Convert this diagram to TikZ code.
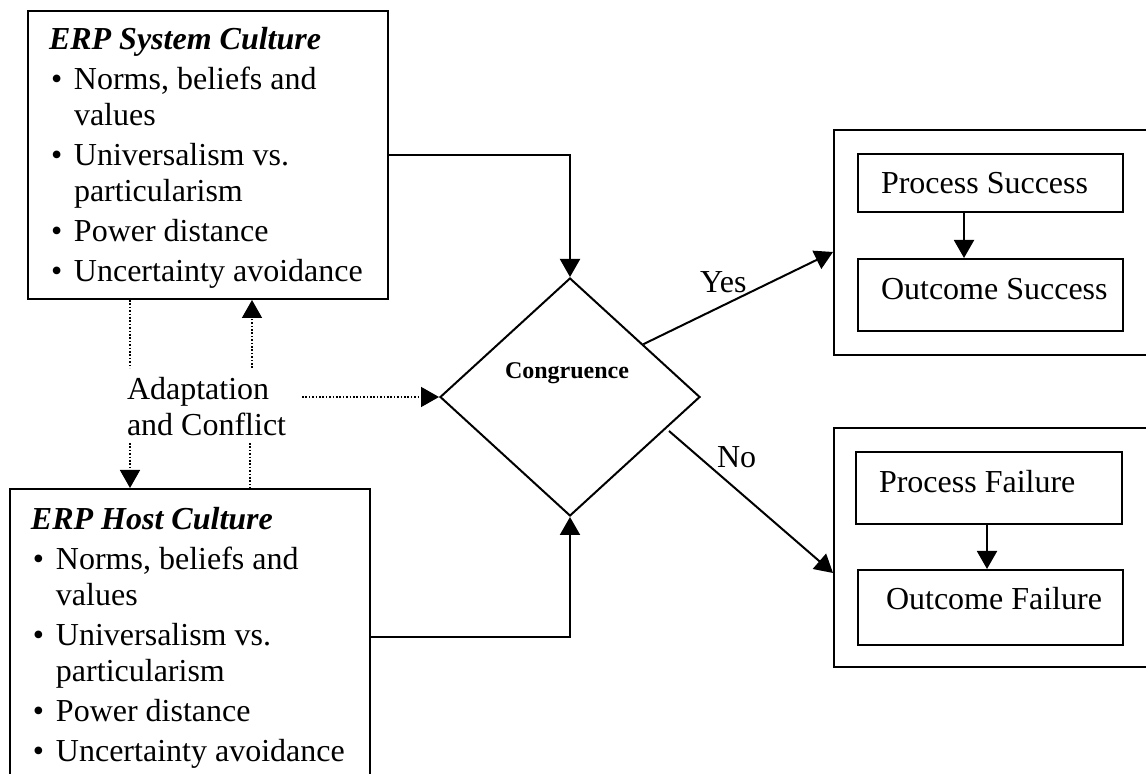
\documentclass[tikz,border=0pt]{standalone}
\usepackage{fontspec}
\setmainfont{Liberation Serif}
\usetikzlibrary{arrows.meta,shapes.geometric,fit,calc}
\newcommand\blt{\hspace*{1pt}\makebox[11.5pt][l]{\textbullet}}
\newcommand\ind{\hspace*{12.5pt}}
\begin{document}
\begin{tikzpicture}[x=0.5pt,y=-0.5pt,line width=1pt,
  tip/.style={-{Triangle[length=9pt,width=10pt]}},
  dotline/.style={line width=0.8pt,dash pattern=on 0.8pt off 0.9pt},
  frame/.style={draw,inner sep=0pt,line width=1pt},
  txt/.style={inner sep=0pt,anchor=base west,font=\fontsize{16}{18}\selectfont}]
\clip (0,0) rectangle (1146,774);
% boxes
\node[frame,fit={(28,11)(388,299)}] (sys) {};
\node[frame,fit={(10,489)(370,785)}] (host) {};
\node[draw,diamond,minimum width=130pt,minimum height=119pt,inner sep=0pt] (dia) at (570,397) {};
\node[frame,fit={(834,130)(1175,355)}] (ok) {};
\node[frame,fit={(834,428)(1175,667)}] (fail) {};
\node[frame,fit={(858,154)(1123,212)}] (ps) {};
\node[frame,fit={(858,259)(1123,331)}] (os) {};
\node[frame,fit={(856,452)(1122,524)}] (pf) {};
\node[frame,fit={(858,570)(1123,645)}] (of) {};
% texts
\node[txt] (systxt) at (48,50) {\begin{tabular}[t]{@{}l@{}}
\textbf{\textit{ERP System Culture}}\\[2pt]
\blt Norms, beliefs and\\
\ind values\\[2pt]
\blt Universalism vs.\\
\ind particularism\\[2pt]
\blt Power distance\\[2pt]
\blt Uncertainty avoidance
\end{tabular}};
\node[txt] (hosttxt) at (30,530) {\begin{tabular}[t]{@{}l@{}}
\textbf{\textit{ERP Host Culture}}\\[2pt]
\blt Norms, beliefs and\\
\ind values\\[2pt]
\blt Universalism vs.\\
\ind particularism\\[2pt]
\blt Power distance\\[2pt]
\blt Uncertainty avoidance
\end{tabular}};
\node[txt] (adapt) at (126,400) {\begin{tabular}[t]{@{}l@{}}Adaptation\\and Conflict\end{tabular}};
\node[inner sep=0pt,anchor=base,font=\fontsize{12}{14}\selectfont\bfseries] (cong) at (567,379) {Congruence};
\node[txt] (yes) at (699,293) {Yes};
\node[txt] (no) at (716,468) {No};
\node[txt] (pstxt) at (880,194) {Process Success};
\node[txt] (ostxt) at (880,300) {Outcome Success};
\node[txt] (pftxt) at (878,493) {Process Failure};
\node[txt] (oftxt) at (885,610) {Outcome Failure};
% coordinates
\coordinate (yy) at (0,252);
\coordinate (nstart) at (669,431);
\coordinate (nn) at (0,573);
\coordinate (sx) at (964,0);
\coordinate (fx) at (987,0);
\coordinate (d1) at (130,368);
\coordinate (d2) at (252,368);
\coordinate (d3) at (130,443);
\coordinate (d4) at (250,443);
\coordinate (d5) at (302,397);
% connectors
\draw[tip] (sys.east) -| (dia.north);
\draw[tip] (host.east) -| (dia.south);
\draw[tip] ($(dia.north)!0.56!(dia.east)$) -- (ok.west |- yy);
\draw[tip] (nstart) -- (fail.west |- nn);
\draw[tip] (ps.south -| sx) -- (os.north -| sx);
\draw[tip] (pf.south -| fx) -- (of.north -| fx);
\draw[dotline] (sys.south -| d1) -- (d1);
\draw[dotline,tip] (d2) -- (sys.south -| d2);
\draw[dotline,tip] (d3) -- (host.north -| d3);
\draw[dotline] (d4) -- (host.north -| d4);
\draw[dotline,tip] (d5) -- (dia.west);
\end{tikzpicture}
\end{document}
